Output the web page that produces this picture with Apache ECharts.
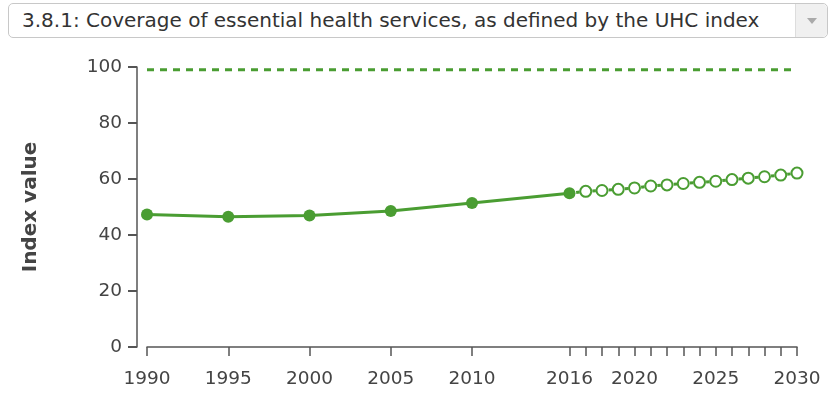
<!DOCTYPE html>
<html>
<head>
<meta charset="utf-8">
<script src="https://cdn.jsdelivr.net/npm/echarts@6/dist/echarts.min.js"></script>
<style>
  html, body { margin: 0; padding: 0; background: #fff; }
  .wrap { position: relative; width: 832px; height: 399px; }
  .select-box {
    position: absolute; left: 8px; top: 3px; width: 820px; height: 35px;
    border: 1px solid #c8c8c8; border-radius: 5px; box-sizing: border-box;
    font-family: "DejaVu Sans", Verdana, sans-serif; font-size: 20px; color: #333;
    line-height: 33px; padding-left: 13px; background: #fff;
  }
  .select-box .arrow {
    position: absolute; right: 0; top: 0; width: 31px; height: 33px;
    border-left: 1px solid #ddd; background: #f0f0f0; border-radius: 0 5px 5px 0;
  }
  .select-box .arrow:after {
    content: ""; position: absolute; left: 11px; top: 14px;
    border-left: 5px solid transparent; border-right: 5px solid transparent;
    border-top: 6px solid #aaa;
  }
  #chart { position: absolute; left: 0; top: 0; width: 832px; height: 399px; }
</style>
</head>
<body>
<div class="wrap">
  <div id="chart"></div>
  <div class="select-box">3.8.1: Coverage of essential health services, as defined by the UHC index<div class="arrow"></div></div>
</div>
<script>
// observed values
const histYears = [1990, 1995, 2000, 2005, 2010, 2016];
const histValues = [47.3, 46.5, 47.0, 48.6, 51.4, 54.9];
// projection (2016 repeated so the dashed line starts at the last observed point)
const projYears = [2016, 2017, 2018, 2019, 2020, 2021, 2022, 2023, 2024, 2025, 2026, 2027, 2028, 2029, 2030];
const projValues = [54.9, 55.6, 55.9, 56.3, 56.8, 57.5, 57.9, 58.4, 58.8, 59.2, 59.8, 60.3, 60.8, 61.4, 62.1];
const targetValue = 99;
const xTicks = [1990, 1995, 2000, 2005, 2010, 2016, 2017, 2018, 2019, 2020, 2021, 2022, 2023, 2024, 2025, 2026, 2027, 2028, 2029, 2030];
const xLabels = [1990, 1995, 2000, 2005, 2010, 2016, 2020, 2025, 2030];
const yTicks = [0, 20, 40, 60, 80, 100];

const green = "#4a9d32";
const axisColor = "#555";
const font = "DejaVu Sans";

const myChart = echarts.init(document.getElementById("chart"));
myChart.setOption({
  animation: false,
  grid: { left: 147, right: 35, top: 67, bottom: 52, containLabel: false },
  xAxis: {
    type: "value",
    min: 1990,
    max: 2030,
    interval: 1,
    offset: 10,
    splitLine: { show: false },
    axisLine: { show: true, lineStyle: { color: axisColor, width: 1.5 } },
    axisTick: { show: true, length: 9, customValues: xTicks, lineStyle: { color: axisColor, width: 1.5 } },
    axisLabel: {
      customValues: xLabels, color: "#444", fontFamily: font, fontSize: 18.5, margin: 13,
      formatter: v => String(v)
    }
  },
  yAxis: {
    type: "value",
    min: 0,
    max: 100,
    interval: 20,
    offset: 10,
    name: "Index value",
    nameLocation: "middle",
    nameRotate: 90,
    nameGap: 96,
    nameTextStyle: { color: "#444", fontFamily: font, fontSize: 20, fontWeight: "bold" },
    splitLine: { show: false },
    axisLine: { show: true, lineStyle: { color: axisColor, width: 1.5 } },
    axisTick: { show: true, length: 9, customValues: yTicks, lineStyle: { color: axisColor, width: 2 } },
    axisLabel: { color: "#444", fontFamily: font, fontSize: 18.5, margin: 15 }
  },
  series: [
    {
      type: "line",
      data: [[1990, targetValue], [2030, targetValue]],
      showSymbol: false,
      lineStyle: { color: green, width: 3, type: [7, 6] },
      silent: true
    },
    {
      type: "line",
      data: histYears.map((y, i) => [y, histValues[i]]),
      symbol: "circle",
      symbolSize: 12,
      itemStyle: { color: green },
      lineStyle: { color: green, width: 3 },
      z: 3
    },
    {
      type: "line",
      data: projYears.map((y, i) => i === 0 ? { value: [y, projValues[i]], symbol: "none" } : [y, projValues[i]]),
      symbol: "circle",
      symbolSize: 11,
      showAllSymbol: true,
      itemStyle: { color: "#fff", borderColor: green, borderWidth: 2 },
      lineStyle: { color: green, width: 3, type: [3.5, 12.8], dashOffset: 9.6 },
      z: 2
    }
  ]
});
</script>
</body>
</html>
